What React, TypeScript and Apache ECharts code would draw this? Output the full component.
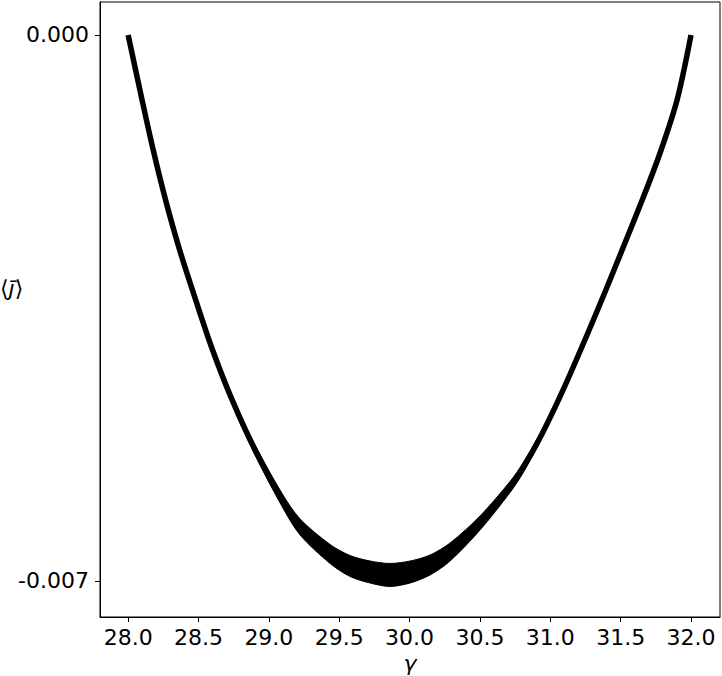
import React, { useEffect, useRef } from "react";
import * as echarts from "echarts";

// gamma values (x)
const gamma = [
  28.0, 28.099, 28.178, 28.266, 28.366, 28.48, 28.6, 28.739, 28.902, 29.094,
  29.222, 29.435, 29.577, 29.719, 29.861, 30.004, 30.146, 30.288, 30.501, 30.714,
  30.806, 30.941, 31.091, 31.261, 31.389, 31.496, 31.659, 31.78, 31.901, 32.0,
];
// centre of the band <j̄>
const jMean = [
  0.0, -0.000833, -0.001474, -0.002115, -0.002756, -0.003397, -0.004038, -0.004679,
  -0.005321, -0.005962, -0.006308, -0.006654, -0.006808, -0.006885, -0.006923,
  -0.006885, -0.006795, -0.006628, -0.006256, -0.005795, -0.005551, -0.005115,
  -0.004551, -0.003846, -0.003295, -0.002821, -0.00209, -0.001513, -0.000833, 0.0,
];
// full vertical spread (noise) of the band around the centre
const jSpread = [
  0, 0, 0, 0, 0.000026, 0.000051, 0.000064, 0.00009, 0.000128, 0.000167,
  0.000205, 0.000244, 0.000269, 0.000282, 0.000295, 0.000282, 0.000256, 0.000231,
  0.00018, 0.000141, 0.000128, 0.000103, 0.000077, 0.000051, 0.000038, 0.000013,
  0, 0, 0, 0,
];
const xTicks = [28.0, 28.5, 29.0, 29.5, 30.0, 30.5, 31.0, 31.5, 32.0];
const yTicks = [0.0, -0.007];

const FONT = "DejaVu Sans";

export default function App() {
  const ref = useRef<HTMLDivElement>(null);
  useEffect(() => {
    if (!ref.current) return;
    const chart = echarts.init(ref.current, null, { renderer: "svg" });
    const centre = gamma.map((g, i) => [g, jMean[i]]);
    const bandData = gamma.map((g, i) => [
      g,
      jMean[i] - jSpread[i] / 2,
      jMean[i] + jSpread[i] / 2,
    ]);
    chart.setOption({
      animation: false,
      backgroundColor: "#ffffff",
      grid: {
        left: 100,
        top: 2,
        width: 620,
        height: 615,
        outerBoundsMode: "none",
        containLabel: false,
        show: true,
        borderColor: "#000",
        borderWidth: 1,
        backgroundColor: "transparent",
      },
      xAxis: {
        type: "value",
        min: 27.8,
        max: 32.206,
        name: "γ",
        nameLocation: "middle",
        nameGap: 30,
        nameTextStyle: {
          fontFamily: FONT,
          fontSize: 22,
          fontStyle: "italic",
          color: "#000",
        },
        axisLine: { show: true, onZero: false, lineStyle: { color: "#000", width: 1 } },
        axisTick: {
          show: true,
          length: 5,
          lineStyle: { color: "#000", width: 1 },
          customValues: xTicks,
        },
        axisLabel: {
          customValues: xTicks,
          formatter: (v: number) => v.toFixed(1),
          fontFamily: FONT,
          fontSize: 22,
          color: "#000",
          margin: 9,
        },
        splitLine: { show: false },
      },
      yAxis: {
        type: "value",
        min: -0.007462,
        max: 0.000423,
        axisLine: { show: true, onZero: false, lineStyle: { color: "#000", width: 1 } },
        axisTick: {
          show: true,
          length: 5,
          lineStyle: { color: "#000", width: 1 },
          customValues: yTicks,
        },
        axisLabel: {
          customValues: yTicks,
          formatter: (v: number) => v.toFixed(3),
          fontFamily: FONT,
          fontSize: 22,
          color: "#000",
          margin: 11,
        },
        splitLine: { show: false },
      },
      graphic: [
        {
          type: "text",
          left: 0,
          top: 277,
          style: {
            text: "{a|⟨}{b|j̄}{a|⟩}",
            rich: {
              a: { fontFamily: FONT, fontSize: 22, fill: "#000" },
              b: { fontFamily: FONT, fontSize: 22, fontStyle: "italic", fill: "#000" },
            },
          },
        },
      ],
      series: [
        {
          type: "custom",
          data: bandData,
          silent: true,
          renderItem: (params: any, api: any) => {
            if (params.dataIndex !== 0) return null;
            const upper = bandData.map((d) => api.coord([d[0], d[2]]));
            const lower = bandData.map((d) => api.coord([d[0], d[1]])).reverse();
            return {
              type: "polygon",
              shape: { points: upper.concat(lower), smooth: 0.3 },
              style: { fill: "#000", stroke: "#000", lineWidth: 1 },
            };
          },
        },
        {
          type: "line",
          data: centre,
          symbol: "none",
          smooth: 0.3,
          lineStyle: { color: "#000", width: 5.5, cap: "butt", join: "round" },
          silent: true,
        },
      ],
    });
    return () => chart.dispose();
  }, []);
  return (
    <div
      ref={ref}
      style={{ position: "fixed", left: 0, top: 0, width: 722, height: 676 }}
    />
  );
}
